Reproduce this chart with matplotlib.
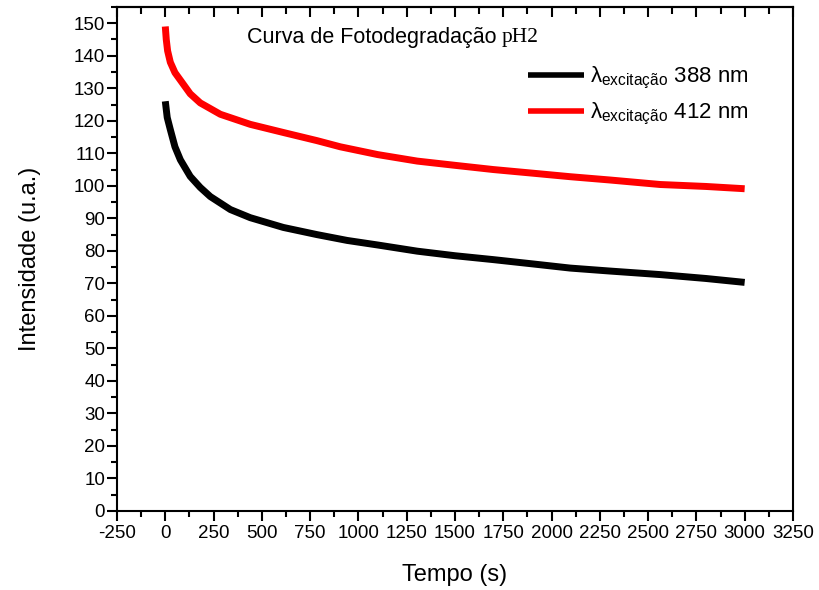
import matplotlib
matplotlib.use("Agg")
import matplotlib.pyplot as plt
from matplotlib.ticker import MultipleLocator

plt.rcParams['font.family'] = ['Liberation Sans', 'DejaVu Sans']
plt.rcParams['mathtext.fontset'] = 'custom'
plt.rcParams['mathtext.rm'] = 'Liberation Sans'
plt.rcParams['mathtext.it'] = 'Liberation Sans'
plt.rcParams['axes.unicode_minus'] = False

t_388 = [0, 10, 26, 50, 78, 129, 181, 233, 337, 440, 611, 785, 942, 1100,
         1305, 1500, 1699, 1900, 2097, 2300, 2563, 2800, 3000]
v_388 = [126, 121, 117.3, 112, 108, 102.9, 99.5, 96.7, 92.7, 90.2, 87.2, 85,
         83.2, 81.8, 79.9, 78.5, 77.3, 76, 74.7, 73.8, 72.7, 71.5, 70.3]

t_412 = [0, 5, 12, 26, 50, 78, 129, 181, 285, 440, 611, 785, 906, 1100, 1305,
         1500, 1699, 1900, 2097, 2300, 2563, 2800, 3000]
v_412 = [149, 145, 141.5, 138, 134.8, 132.5, 128.3, 125.5, 122, 118.9, 116.4,
         113.9, 112, 109.6, 107.6, 106.3, 105, 103.9, 102.8, 101.8, 100.4, 99.8, 99.1]

labels = [r'$\lambda_{\mathrm{excitação}}$ 388 nm', r'$\lambda_{\mathrm{excitação}}$ 412 nm']
title = 'Curva de Fotodegradação'

fig = plt.figure(figsize=(8.2, 5.9), dpi=100)
ax = fig.add_axes([0.1427, 0.1339, 0.8243, 0.8543])

ax.plot(t_388, v_388, color='black', lw=5, solid_capstyle='butt', label=labels[0])
ax.plot(t_412, v_412, color='red', lw=5, solid_capstyle='butt', label=labels[1])

ax.set_xlim(-250, 3250)
ax.set_ylim(0, 155)
ax.xaxis.set_major_locator(MultipleLocator(250))
ax.xaxis.set_minor_locator(MultipleLocator(125))
ax.yaxis.set_major_locator(MultipleLocator(10))
ax.yaxis.set_minor_locator(MultipleLocator(5))

for s in ax.spines.values():
    s.set_linewidth(1.5)

ax.tick_params(axis='both', which='major', direction='out', length=7, width=1.5,
               labelsize=13.5, top=False, right=False)
ax.tick_params(axis='both', which='minor', direction='out', length=4, width=1.5,
               top=False, right=False)
ax.tick_params(axis='x', pad=3)
ax.tick_params(axis='y', pad=1.5)

sec = ax.secondary_xaxis('top')
sec.xaxis.set_major_locator(MultipleLocator(250))
sec.xaxis.set_minor_locator(MultipleLocator(125))
sec.tick_params(which='major', direction='in', length=7, width=1.5, labeltop=False)
sec.tick_params(which='minor', direction='in', length=5, width=1.5)
sec.spines['top'].set_linewidth(1.5)

ax.set_xlabel('Tempo (s)', fontsize=17, labelpad=16)
ax.set_ylabel('Intensidade (u.a.)', fontsize=17, labelpad=24)

ttl = ax.text(0.192, 0.94, title, transform=ax.transAxes, fontsize=15.5, ha='left', va='center')
ax.annotate('pH2', xy=(1, 0.5), xycoords=ttl, xytext=(4, 0), textcoords='offset points',
            fontsize=15.5, ha='left', va='center', family='Liberation Serif')

leg = ax.legend(loc='upper left', bbox_to_anchor=(0.608, 0.885), frameon=False, fontsize=16,
                handlelength=2.5, handletextpad=0.3, labelspacing=0.45, borderaxespad=0,
                borderpad=0)
for h in leg.get_lines():
    h.set_linewidth(4)

fig.savefig('out.png', dpi=100)
